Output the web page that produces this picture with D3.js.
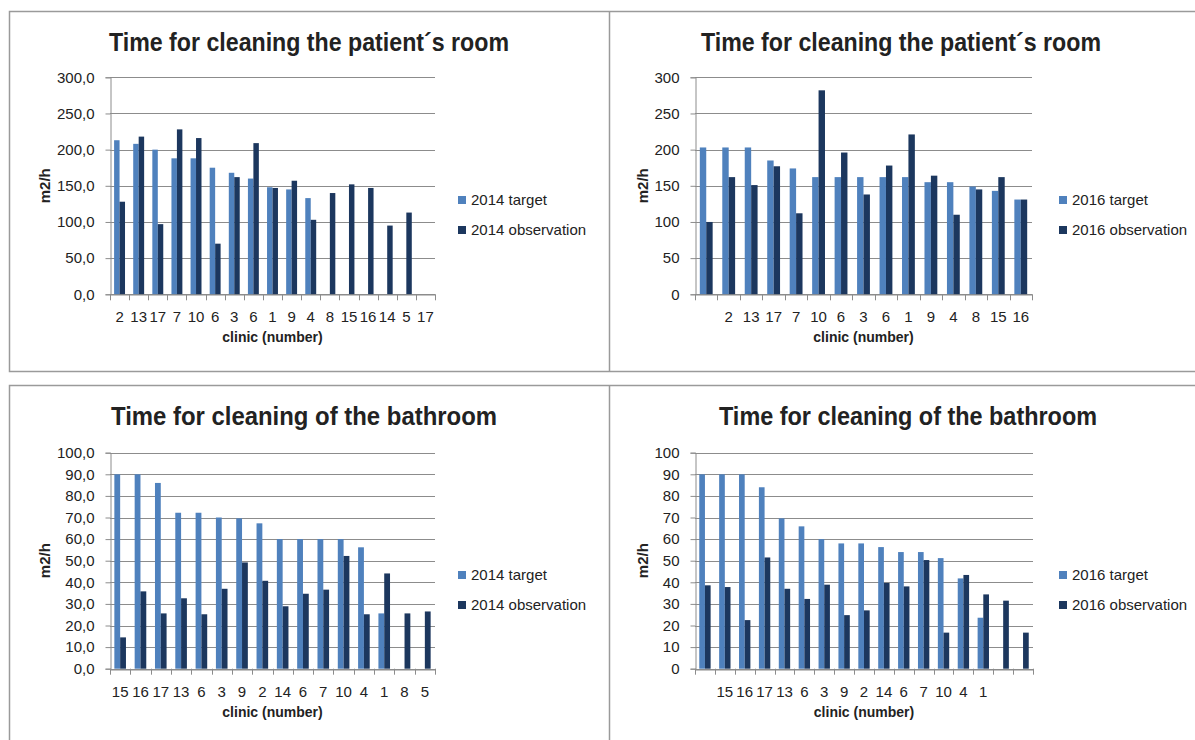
<!DOCTYPE html>
<html>
<head>
<meta charset="utf-8">
<script src="https://cdn.jsdelivr.net/npm/d3@7"></script>
<style>
  body { margin: 0; background: #fff; }
  text { font-family: "Liberation Sans", Arial, sans-serif; fill: #222; }
</style>
</head>
<body>
<div id="chart"></div>
<script>
// ---- data ----
const roomClinics2014 = ["2","13","17","7","10","6","3","6","1","9","4","8","15","16","14","5","17"];
const roomTarget2014 = [213,208,200,188,188,175,168,160,148,145,133,null,null,null,null,null,null];
const roomObs2014 = [128,218,97,228,216,70,162,209,147,157,103,140,152,147,95,113,null];

const roomClinics2016 = ["","2","13","17","7","10","6","3","6","1","9","4","8","15","16"];
const roomTarget2016 = [203,203,203,185,174,162,162,162,162,162,155,155,149,143,131];
const roomObs2016 = [100,162,151,177,112,282,196,138,178,221,164,110,145,162,131];

const bathClinics2014 = ["15","16","17","13","6","3","9","2","14","6","7","10","4","1","8","5"];
const bathTarget2014 = [90,90,86,72.2,72.2,70,69.6,67.3,60,60,60,60,56.2,25.6,null,null];
const bathObs2014 = [14.5,35.8,25.6,32.6,25.2,37,49.2,40.7,28.9,34.7,36.6,52.2,25.2,44.1,25.6,26.5];

const bathClinics2016 = ["","15","16","17","13","6","3","9","2","14","6","7","10","4","1","",""];
const bathTarget2016 = [90,90,90,84,69.6,65.9,60,58,58,56.3,54,54,51.2,41.8,23.6,null,null];
const bathObs2016 = [38.6,37.8,22.5,51.5,37,32.3,38.9,24.8,27,39.7,38.1,50.3,16.7,43.4,34.4,31.5,16.7];

const roomTicks = [0,50,100,150,200,250,300];
const bathTicks = [0,10,20,30,40,50,60,70,80,90,100];

const colTarget = "#4f81bd";
const colObs = "#1c375e";

const W = 1195, H = 740;
const svg = d3.select("#chart").append("svg")
    .attr("width", W).attr("height", H);

// panel frames
const frame = svg.append("g").attr("fill", "none").attr("stroke", "#9a9a9a").attr("stroke-width", 1.5);
frame.append("rect").attr("x", 9.5).attr("y", 11.5).attr("width", 1200).attr("height", 360);
frame.append("line").attr("x1", 609.5).attr("x2", 609.5).attr("y1", 11.5).attr("y2", 371.5);
frame.append("rect").attr("x", 9.5).attr("y", 385.5).attr("width", 1200).attr("height", 400);
frame.append("line").attr("x1", 609.5).attr("x2", 609.5).attr("y1", 385.5).attr("y2", 745);

function drawChart(cfg) {
    const g = svg.append("g")
    const n = cfg.labels.length
    const idx = d3.range(n)

    const x = d3.scaleBand()
        .domain(idx)
        .range([cfg.left, cfg.right])
        .padding(0)
    const sub = d3.scaleBand()
        .domain(["t", "o"])
        .range([0, x.bandwidth()])
        .paddingInner(0)
        .paddingOuter(0.75)
    const y = d3.scaleLinear()
        .domain([0, cfg.max])
        .range([cfg.bottom, cfg.top])

    // gridlines
    g.append("g")
        .selectAll("line")
        .data(cfg.ticks)
        .join("line")
        .attr("x1", cfg.left).attr("x2", cfg.right)
        .attr("y1", d => Math.round(y(d)) + 0.5)
        .attr("y2", d => Math.round(y(d)) + 0.5)
        .attr("stroke", "#8c8c8c")
        .attr("stroke-width", 1)

    // bars
    const rows = idx.map(i => ({i: i, t: cfg.target[i], o: cfg.obs[i]}))
    g.append("g").selectAll("rect")
        .data(rows.filter(d => d.t != null))
        .join("rect")
        .attr("x", d => x(d.i) + sub("t"))
        .attr("y", d => y(d.t))
        .attr("width", sub.bandwidth())
        .attr("height", d => cfg.bottom - y(d.t))
        .attr("fill", colTarget)
    g.append("g").selectAll("rect")
        .data(rows.filter(d => d.o != null))
        .join("rect")
        .attr("x", d => x(d.i) + sub("o"))
        .attr("y", d => y(d.o))
        .attr("width", sub.bandwidth())
        .attr("height", d => cfg.bottom - y(d.o))
        .attr("fill", colObs)

    // y axis
    const yAxis = g.append("g")
        .attr("transform", `translate(${cfg.left + 0.5},0)`)
        .call(d3.axisLeft(y).tickValues(cfg.ticks).tickSize(5).tickPadding(11)
            .tickFormat(cfg.fmt))
    yAxis.select(".domain").attr("stroke", "#8c8c8c")
    yAxis.selectAll(".tick line").attr("stroke", "#8c8c8c")
    yAxis.selectAll("text").style("font-size", "15px").attr("fill", "#222")

    // x axis
    const xAxis = g.append("g")
        .attr("transform", `translate(0,${Math.round(cfg.bottom) + 0.5})`)
        .call(d3.axisBottom(x).tickSize(0).tickPadding(17).tickFormat(i => cfg.labels[i]))
    xAxis.select(".domain").attr("stroke", "#8c8c8c")
    xAxis.selectAll("text").style("font-size", "15px").attr("fill", "#222")
    g.append("g").selectAll("line")
        .data(d3.range(n + 1))
        .join("line")
        .attr("x1", d => Math.round(cfg.left + d * x.step()) + 0.5)
        .attr("x2", d => Math.round(cfg.left + d * x.step()) + 0.5)
        .attr("y1", cfg.bottom)
        .attr("y2", cfg.bottom + 6)
        .attr("stroke", "#8c8c8c")

    // titles
    g.append("text")
        .attr("x", cfg.titleX).attr("y", cfg.titleY)
        .attr("text-anchor", "middle")
        .attr("textLength", cfg.titleW)
        .attr("lengthAdjust", "spacingAndGlyphs")
        .style("font-family", "'Liberation Sans Narrow', 'Liberation Sans', Arial, sans-serif")
        .style("font-size", "25px").style("font-weight", "bold")
        .attr("fill", "#000")
        .text(cfg.title)
    g.append("text")
        .attr("x", (cfg.left + cfg.right) / 2).attr("y", cfg.bottom + 48)
        .attr("text-anchor", "middle")
        .style("font-size", "14px").style("font-weight", "bold")
        .attr("fill", "#000")
        .text("clinic (number)")
    g.append("text")
        .attr("transform", `translate(${cfg.yLabelX},${(cfg.top + cfg.bottom) / 2}) rotate(-90)`)
        .attr("text-anchor", "middle")
        .style("font-size", "15px").style("font-weight", "bold")
        .attr("fill", "#000")
        .text("m2/h")

    // legend
    const leg = g.append("g").attr("transform", `translate(${cfg.legX},${cfg.legY})`)
    const items = [[cfg.year + " target", colTarget], [cfg.year + " observation", colObs]]
    items.forEach((it, k) => {
        leg.append("rect")
            .attr("x", 0).attr("y", k * 30 - 4)
            .attr("width", 8).attr("height", 8)
            .attr("fill", it[1])
        leg.append("text")
            .attr("x", 13).attr("y", k * 30 + 5)
            .style("font-size", "15px")
            .attr("fill", "#222")
            .text(it[0])
    })
}

const decFmt = d => d3.format(".1f")(d).replace(".", ",")
const intFmt = d => d3.format("d")(d)

drawChart({labels: roomClinics2014, target: roomTarget2014, obs: roomObs2014,
    left: 110, right: 435, top: 77.3, bottom: 294.3, max: 300, ticks: roomTicks, fmt: decFmt,
    title: "Time for cleaning the patient´s room", titleX: 309, titleY: 51, titleW: 400,
    yLabelX: 50, year: "2014", legX: 458, legY: 200})

drawChart({labels: roomClinics2016, target: roomTarget2016, obs: roomObs2016,
    left: 695, right: 1032, top: 77.3, bottom: 294.3, max: 300, ticks: roomTicks, fmt: intFmt,
    title: "Time for cleaning the patient´s room", titleX: 901, titleY: 51, titleW: 400,
    yLabelX: 648, year: "2016", legX: 1059, legY: 200})

drawChart({labels: bathClinics2014, target: bathTarget2014, obs: bathObs2014,
    left: 110, right: 435, top: 452.7, bottom: 668.7, max: 100, ticks: bathTicks, fmt: decFmt,
    title: "Time for cleaning of the bathroom", titleX: 304, titleY: 425, titleW: 386,
    yLabelX: 50, year: "2014", legX: 458, legY: 575})

drawChart({labels: bathClinics2016, target: bathTarget2016, obs: bathObs2016,
    left: 695, right: 1033, top: 452.7, bottom: 668.7, max: 100, ticks: bathTicks, fmt: intFmt,
    title: "Time for cleaning of the bathroom", titleX: 908, titleY: 425, titleW: 378,
    yLabelX: 648, year: "2016", legX: 1059, legY: 575})
</script>
</body>
</html>
